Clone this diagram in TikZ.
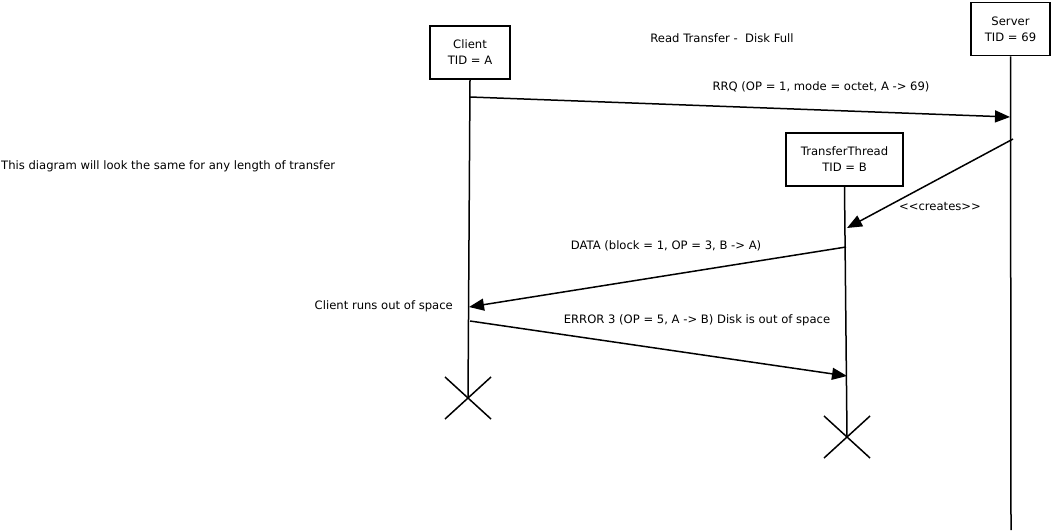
\documentclass[tikz,border=0pt]{standalone}
\usepackage{fontspec}
\setmainfont{DejaVu Sans}
\usetikzlibrary{arrows.meta}
\begin{document}
\begin{tikzpicture}[
	                    x = 1pt,
	                    y = -1pt,
	    every node/.style = {font=\fontsize{11.6}{16}\selectfont, inner sep=1pt},
	        object/.style = {draw, line width=1.6pt, align=center, minimum height=53pt},
	      lifeline/.style = {line width=1.5pt},
	       message/.style = {line width=1.5pt, -{Triangle[length=15pt,width=12pt]}},
	       destroy/.style = {line width=1.5pt},
	                     ]
		\useasboundingbox (0,0) rectangle (1051,530);
		% objects
		\node[object, minimum width=80pt]  (client) at (470,52.5)  {Client\\TID = A};
		\node[object, minimum width=79pt]  (server) at (1010.5,29) {Server\\TID = 69};
		\node[object, minimum width=117pt] (thread) at (844.5,159.5) {TransferThread\\TID = B};
		% lifelines
		\coordinate (client end) at (468,398);
		\coordinate (server end) at (1011,530);
		\coordinate (thread end) at (847,437);
		\draw[lifeline] (client.south) -- (client end);
		\draw[lifeline] (server.south) -- (server end);
		\draw[lifeline] (thread.south) -- (thread end);
		% destruction marks
		\draw[destroy] (client end) ++(-23,-21) -- ++(46,42);
		\draw[destroy] (client end) ++(-23,21)  -- ++(46,-42);
		\draw[destroy] (thread end) ++(-23,-21) -- ++(46,42);
		\draw[destroy] (thread end) ++(-23,21)  -- ++(46,-42);
		% messages
		\coordinate (rrq from)    at (470,97);
		\coordinate (rrq to)      at (1010,117);
		\coordinate (create from) at (1013,139);
		\coordinate (create to)   at (847,228);
		\coordinate (data from)   at (846,247);
		\coordinate (data to)     at (469,307);
		\coordinate (error from)  at (470,321);
		\coordinate (error to)    at (847,376);
		\draw[message] (rrq from) -- (rrq to);
		\draw[message] (create from) -- (create to);
		\draw[message] (data from) -- (data to);
		\draw[message] (error from) -- (error to);
		% labels
		\node (title)  at (722,38)  {Read Transfer -\ \ Disk Full};
		\node[anchor=west] (note) at (0,166) {This diagram will look the same for any length of transfer};
		\node (rrq label)    at (821,87)  {RRQ (OP = 1, mode = octet, A -> 69)};
		\node (create label) at (940,207) {<\kern0pt<creates>\kern0pt>};
		\node (data label)   at (666,246) {DATA (block = 1, OP = 3, B -> A)};
		\node[anchor=east] (space label) at (454,306) {Client runs out of space};
		\node (error label)  at (697,320) {ERROR 3 (OP = 5, A -> B) Disk is out of space};
\end{tikzpicture}
\end{document}
